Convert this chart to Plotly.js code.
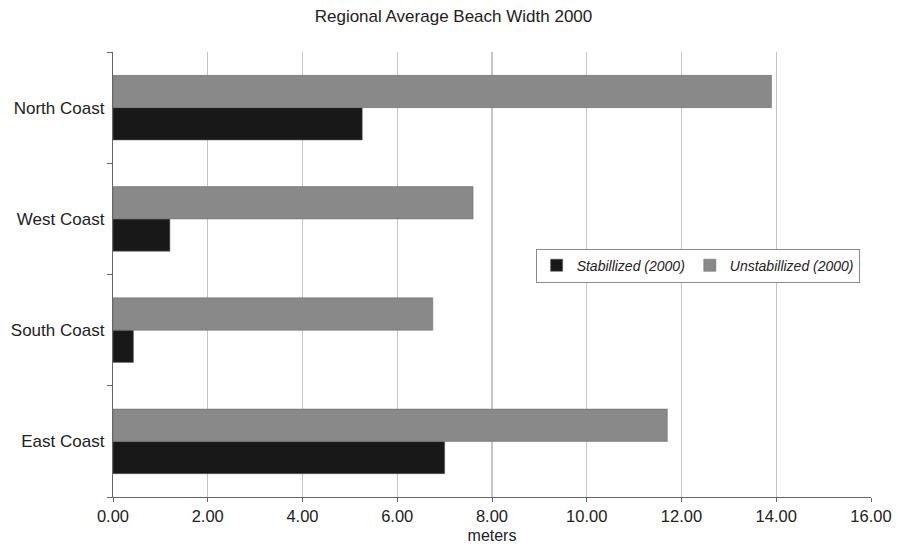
<!DOCTYPE html>
<html>
<head>
<meta charset="utf-8">
<script src="https://cdn.plot.ly/plotly-3.0.1.min.js"></script>
<style>html,body{margin:0;padding:0;background:#fff;}#chart{width:898px;height:548px;}</style>
</head>
<body>
<div id="chart"></div>
<script>
const categories = ["North Coast", "West Coast", "South Coast", "East Coast"];
const stabilized = [5.26, 1.2, 0.43, 7.0];
const unstabilized = [13.9, 7.6, 6.75, 11.7];
const seriesNames = ["Stabillized (2000)", "Unstabillized (2000)"];

const font = "Liberation Sans, Arial, Helvetica, sans-serif";

const traces = [
  {
    type: "bar", orientation: "h", name: seriesNames[0],
    y: categories, x: stabilized,
    marker: {color: "#181818", line: {color: "#555", width: 0.6}},
    hoverinfo: "x+y"
  },
  {
    type: "bar", orientation: "h", name: seriesNames[1],
    y: categories, x: unstabilized,
    marker: {color: "#898989", line: {color: "#6f6f6f", width: 0.6}},
    hoverinfo: "x+y"
  }
];

const layout = {
  width: 898, height: 548,
  margin: {l: 113, r: 27, t: 52, b: 51},
  paper_bgcolor: "#fff", plot_bgcolor: "#fff",
  font: {family: font, size: 17, color: "#222"},
  title: {text: "Regional Average Beach Width 2000", x: 0.505, xanchor: "center", y: 0.97, yanchor: "middle", font: {family: font, size: 17, color: "#222"}},
  barmode: "group",
  bargap: 0.42,
  bargroupgap: 0,
  showlegend: true,
  legend: {
    orientation: "h", x: 0.985, y: 0.52, xanchor: "right", yanchor: "middle",
    bgcolor: "#fff", bordercolor: "#8a8a8a", borderwidth: 1,
    font: {family: font, size: 14, color: "#222"},
    itemwidth: 30, traceorder: "normal", tracegroupgap: 0
  },
  xaxis: {
    range: [0, 16], dtick: 2, tick0: 0, tickformat: ".2f",
    showgrid: true, gridcolor: "#c4c4c4", gridwidth: 1.3,
    zeroline: false, showline: true, linecolor: "#666", linewidth: 1.2,
    ticks: "outside", ticklen: 4, tickcolor: "#666",
    tickfont: {family: font, size: 16.5, color: "#222"},
    title: {text: "meters", font: {family: font, size: 16, color: "#222"}, standoff: 5},
    fixedrange: true
  },
  yaxis: {
    type: "category",
    categoryorder: "array",
    categoryarray: categories.slice().reverse(),
    showgrid: false, zeroline: false,
    showline: true, linecolor: "#666", linewidth: 1.2,
    ticks: "outside", ticklen: 5, tickcolor: "#666", tickson: "boundaries",
    tickfont: {family: font, size: 17, color: "#222"},
    ticklabelstandoff: 4,
    fixedrange: true
  }
};

Plotly.newPlot("chart", traces, layout, {displayModeBar: false, staticPlot: true}).then(function(){
  document.querySelectorAll(".legendtext").forEach(function(t){ t.style.fontStyle = "italic"; });
});
</script>
</body>
</html>
